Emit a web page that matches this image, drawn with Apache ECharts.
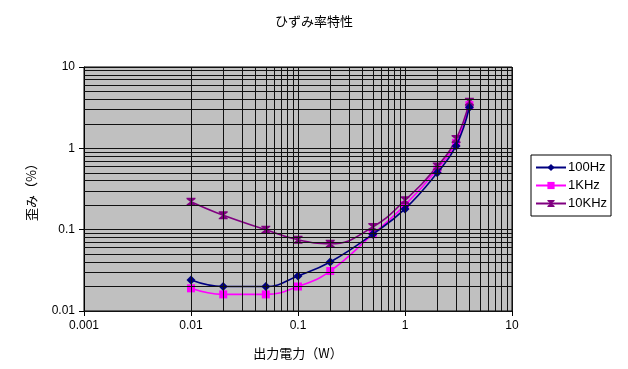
<!DOCTYPE html>
<html><head><meta charset="utf-8">
<script src="https://cdn.jsdelivr.net/npm/echarts@6/dist/echarts.min.js"></script>
<style>html,body{margin:0;padding:0;background:#fff}#c{width:628px;height:369px}</style>
</head><body><div id="c"></div>
<script>
var power = [0.01, 0.02, 0.05, 0.1, 0.2, 0.5, 1, 2, 3, 4];
var thd100Hz = [0.024, 0.020, 0.020, 0.027, 0.040, 0.088, 0.18, 0.50, 1.07, 3.2];
var thd1KHz = [0.019, 0.016, 0.016, 0.020, 0.031, 0.088, 0.20, 0.55, 1.17, 3.4];
var thd10KHz = [0.22, 0.15, 0.10, 0.075, 0.067, 0.108, 0.23, 0.60, 1.30, 3.75];
var seriesNames = ['100Hz', '1KHz', '10KHz'];
var xTicks = [0.001, 0.01, 0.1, 1, 10];
var yTicks = [0.01, 0.1, 1, 10];

function pairs(ys){ return power.map(function(x,i){ return [x, ys[i]]; }); }
function minors(lo, hi){
  var out = [];
  for (var d = lo; d < hi * 0.999; d *= 10) {
    for (var k = 2; k <= 9; k++) out.push(d * k);
  }
  return out;
}
var gridX = minors(0.001, 10).concat(xTicks);
var gridY = minors(0.01, 10).concat(yTicks);
var gridLines = gridX.map(function(v){ return {xAxis: v}; })
  .concat(gridY.map(function(v){ return {yAxis: v}; }));

var font = 'Arial, "Liberation Sans", "Noto Sans CJK JP", sans-serif';
var jfont = '"Noto Sans CJK JP", sans-serif';
var hourglass = 'path://M0,0L10,0L10,1.5L6,5L10,8.5L10,10L0,10L0,8.5L4,5L0,1.5Z';

function fmt(v){
  var m = {0.001:'0.001',0.01:'0.01',0.1:'0.1',1:'1',10:'10'};
  for (var k in m) if (Math.abs(v - Number(k)) < Number(k)*1e-6) return m[k];
  return '';
}

var chart = echarts.init(document.getElementById('c'), null, {renderer:'canvas'});
chart.setOption({
  animation: false,
  backgroundColor: '#ffffff',
  title: {
    text: 'ひずみ率特性', left: 'center', top: 10,
    textStyle: {fontFamily: jfont, fontSize: 13, fontWeight: 'normal', color: '#000'}
  },
  grid: {
    left: 84, top: 67, right: 116, bottom: 58,
    show: true, backgroundColor: '#c0c0c0', borderColor: '#000', borderWidth: 1
  },
  legend: {
    orient: 'vertical', left: 531, top: 155,
    width: 78,
    padding: [6, 4, 6, 4],
    itemGap: 5,
    itemWidth: 30, itemHeight: 9,
    borderColor: '#000', borderWidth: 1, backgroundColor: '#fff',
    textStyle: {fontFamily: font, fontSize: 13, color: '#000', padding: [0,0,0,-3]},
    data: seriesNames
  },
  xAxis: {
    type: 'log', logBase: 10, min: 0.001, max: 10,
    name: '出力電力（W）', nameLocation: 'middle', nameGap: 36,
    nameTextStyle: {fontFamily: jfont, fontSize: 13, color: '#000'},
    axisLine: {show: true, onZero: false, lineStyle: {color: '#000', width: 1}},
    axisTick: {show: true, inside: false, length: 5, lineStyle: {color: '#000'}},
    axisLabel: {fontFamily: font, fontSize: 12, color: '#000', margin: 9, formatter: fmt},
    splitLine: {show: false},
    minorTick: {show: false}
  },
  yAxis: {
    type: 'log', logBase: 10, min: 0.01, max: 10,
    name: '歪み（%）', nameLocation: 'middle', nameGap: 46, nameRotate: 90,
    nameTextStyle: {fontFamily: jfont, fontSize: 13, color: '#000'},
    axisLine: {show: true, onZero: false, lineStyle: {color: '#000', width: 1}},
    axisTick: {show: true, inside: false, length: 5, lineStyle: {color: '#000'}},
    axisLabel: {fontFamily: font, fontSize: 12, color: '#000', margin: 9, formatter: fmt},
    splitLine: {show: false},
    minorTick: {show: false}
  },
  series: [
    {
      name: '_grid', type: 'line', data: [], z: 1, silent: true,
      markLine: {
        silent: true, symbol: ['none','none'], animation: false,
        label: {show: false},
        lineStyle: {color: '#111', width: 1, type: 'solid', opacity: 1},
        emphasis: {disabled: true},
        data: gridLines
      }
    },
    {
      name: seriesNames[0], type: 'line', z: 3, smooth: 0.45,
      data: pairs(thd100Hz),
      symbol: 'diamond', symbolSize: 9,
      lineStyle: {color: '#000080', width: 1.6},
      itemStyle: {color: '#000080'}
    },
    {
      name: seriesNames[1], type: 'line', z: 2, smooth: 0.45,
      data: pairs(thd1KHz),
      symbol: 'rect', symbolSize: 8,
      lineStyle: {color: '#ff00ff', width: 1.6},
      itemStyle: {color: '#ff00ff'}
    },
    {
      name: seriesNames[2], type: 'line', z: 2, smooth: 0.45,
      data: pairs(thd10KHz),
      symbol: hourglass, symbolSize: [9, 8],
      lineStyle: {color: '#800080', width: 1.6},
      itemStyle: {color: '#800080'}
    }
  ]
});
</script>
</body></html>
